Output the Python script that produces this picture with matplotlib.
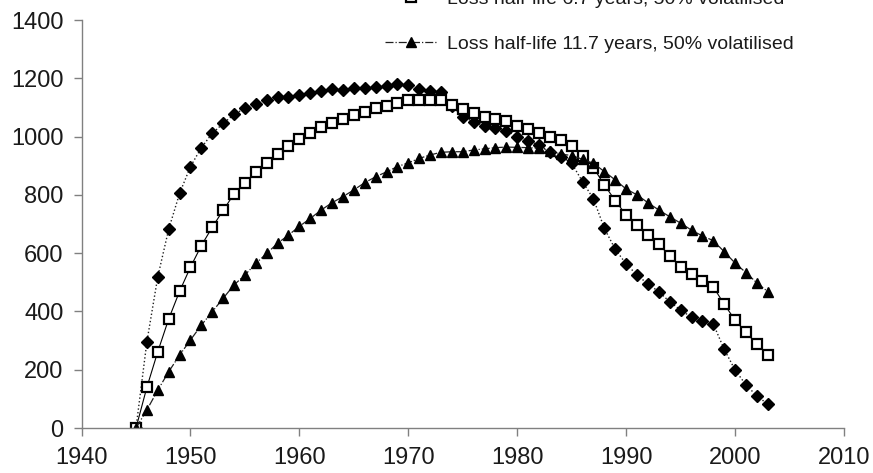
import numpy as np
import matplotlib
matplotlib.use("Agg")
import matplotlib.pyplot as plt

plt.rcParams['font.family'] = ['Liberation Sans', 'DejaVu Sans']

# -- Donnees
years = list(range(1945, 2004))

fast_loss = [0, 296, 519, 682, 805, 897, 962, 1011, 1045, 1076,
             1097, 1112, 1125, 1135, 1137, 1142, 1150, 1157, 1162, 1161,
             1165, 1166, 1169, 1173, 1179, 1177, 1162, 1157, 1154, 1105,
             1068, 1051, 1036, 1028, 1020, 1000, 986, 971, 948, 931,
             908, 845, 786, 685, 613, 563, 525, 494, 468, 433,
             405, 380, 368, 357, 270, 199, 148, 110, 82]

mid_loss = [0, 140, 262, 374, 469, 552, 626, 689, 747, 803,
            840, 879, 909, 941, 968, 992, 1013, 1033, 1048, 1062,
            1074, 1085, 1097, 1106, 1116, 1126, 1126, 1126, 1126, 1108,
            1093, 1080, 1068, 1060, 1055, 1038, 1026, 1014, 1000, 988,
            968, 933, 893, 834, 780, 731, 697, 662, 631, 590,
            553, 528, 505, 484, 425, 370, 328, 288, 250]

slow_loss = [0, 62, 130, 193, 250, 302, 353, 399, 445, 491,
             525, 565, 599, 634, 662, 692, 719, 748, 773, 794,
             817, 842, 862, 879, 897, 910, 925, 937, 946, 948,
             948, 954, 958, 962, 964, 963, 962, 960, 952, 940,
             935, 922, 908, 880, 851, 820, 800, 773, 748, 725,
             703, 679, 659, 643, 605, 566, 533, 498, 468]

mid_label = "Loss half-life 6.7 years, 50% volatilised"
slow_label = "Loss half-life 11.7 years, 50% volatilised"

xticks = [1940, 1950, 1960, 1970, 1980, 1990, 2000, 2010]
yticks = [0, 200, 400, 600, 800, 1000, 1200, 1400]

# -- Figure
fig = plt.figure(figsize=(8.73, 4.73), dpi=100)
ax = fig.add_axes([0.0934, 0.0951, 0.8734, 0.8626])

ax.plot(years, fast_loss, color='#202020', linestyle=':', linewidth=1.0,
        marker='D', markersize=5.8, markerfacecolor='black',
        markeredgecolor='black')
sq, = ax.plot(years, mid_loss, color='black', linestyle='-', linewidth=0.8,
              marker='s', markersize=7.6, markerfacecolor='white',
              markeredgecolor='black', markeredgewidth=1.6,
              label=mid_label)
tr, = ax.plot(years, slow_loss, color='#202020', linestyle='-.', linewidth=0.9,
              marker='^', markersize=7.5, markerfacecolor='black',
              markeredgecolor='black', label=slow_label)

ax.set_xlim(1940, 2010)
ax.set_ylim(0, 1400)
ax.set_xticks(xticks)
ax.set_yticks(yticks)

for s in ['top', 'right']:
    ax.spines[s].set_visible(False)
for s in ['left', 'bottom']:
    ax.spines[s].set_color('#808080')
    ax.spines[s].set_linewidth(1.0)

ax.tick_params(axis='both', direction='out', length=6, width=1.0,
               color='#808080', labelsize=17, labelcolor='#1a1a1a')
ax.tick_params(axis='x', pad=8)
ax.tick_params(axis='y', pad=7)

leg = fig.legend(handles=[sq, tr], loc='lower left',
                 bbox_to_anchor=(0.441, 0.888), frameon=False,
                 fontsize=14, handlelength=2.7, handletextpad=0.5,
                 labelspacing=1.4, borderpad=0, borderaxespad=0,
                 numpoints=1)
for t in leg.get_texts():
    t.set_color('#1a1a1a')

fig.savefig("out.png", dpi=100)
